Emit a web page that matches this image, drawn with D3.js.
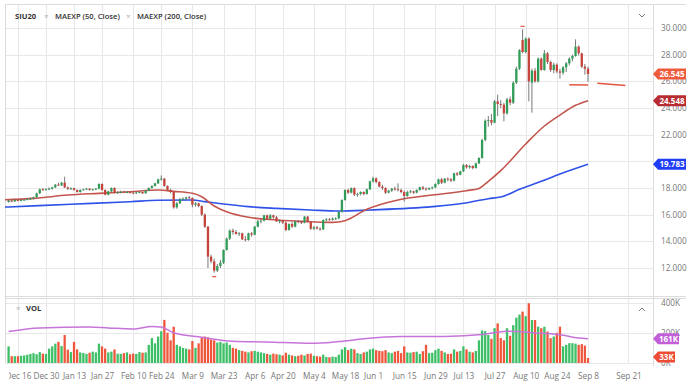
<!DOCTYPE html>
<html><head><meta charset="utf-8">
<script src="https://cdn.jsdelivr.net/npm/d3@7/dist/d3.min.js"></script>
<style>
html,body{margin:0;padding:0;background:#fff;}
svg{display:block;font-family:"Open Sans","Noto Sans",sans-serif;}
</style></head><body>
<svg id="c" width="700" height="388"></svg>
<script>
// Daily candles [open, high, low, close], Dec 11 2019 .. Sep 8 2020 (trading days)
const candles = [
[16.95,17.10,16.90,17.05],[17.05,17.15,16.95,17.00],[17.00,17.20,16.95,17.10],[17.10,17.15,17.00,17.05],[17.05,17.15,17.00,17.10],[17.10,17.18,17.05,17.12],[17.12,17.25,17.08,17.18],[17.18,17.30,17.10,17.22],[17.22,17.35,17.15,17.30],[17.30,17.65,17.28,17.60],
[17.60,17.95,17.55,17.90],[17.90,18.00,17.80,17.88],[17.88,17.98,17.80,17.92],[17.92,18.05,17.85,17.95],[17.95,18.10,17.88,18.05],[18.05,18.30,18.00,18.25],[18.25,18.40,18.15,18.20],[18.20,18.45,18.15,18.40],[18.40,18.85,18.00,18.05],[18.05,18.10,17.85,17.95],
[17.95,18.05,17.85,17.98],[17.98,18.02,17.80,17.85],[17.85,17.90,17.65,17.70],[17.70,17.90,17.65,17.85],[17.85,17.95,17.80,17.90],[17.90,18.00,17.85,17.95],[17.95,17.98,17.80,17.85],[17.85,17.95,17.80,17.90],[17.90,18.00,17.85,17.95],[17.95,18.35,17.90,18.30],
[18.30,18.35,17.80,17.85],[17.85,17.90,17.45,17.50],[17.50,17.80,17.45,17.75],[17.75,18.05,17.70,18.00],[18.00,18.05,17.60,17.65],[17.65,17.75,17.55,17.70],[17.70,17.80,17.60,17.72],[17.72,17.80,17.62,17.68],[17.68,17.78,17.60,17.70],[17.70,17.75,17.58,17.65],
[17.65,17.72,17.55,17.62],[17.62,17.70,17.55,17.66],[17.66,17.75,17.60,17.70],[17.70,17.72,17.55,17.60],[17.60,17.85,17.58,17.80],[17.80,18.05,17.78,18.00],[18.00,18.20,17.95,18.15],[18.15,18.40,18.10,18.35],[18.35,18.70,18.30,18.65],[18.65,18.95,18.55,18.70],
[18.70,18.75,18.10,18.15],[18.15,18.20,17.80,17.85],[17.85,17.95,17.60,17.70],[17.70,17.72,16.45,16.55],[16.55,16.95,16.45,16.85],[16.85,17.25,16.80,17.15],[17.15,17.30,17.05,17.20],[17.20,17.35,17.10,17.30],[17.30,17.40,17.15,17.25],[17.25,17.30,16.55,16.75],
[16.75,16.95,16.60,16.85],[16.85,16.90,16.55,16.65],[16.65,16.70,15.90,16.00],[16.00,16.10,15.00,15.10],[15.10,15.15,12.00,12.85],[12.85,13.00,12.35,12.50],[12.50,12.70,11.65,11.80],[11.80,12.30,11.70,12.15],[12.15,12.60,12.00,12.40],[12.40,13.40,12.30,13.35],
[13.35,14.30,13.30,14.20],[14.20,14.90,14.10,14.80],[14.80,14.95,14.50,14.70],[14.70,14.85,14.50,14.55],[14.55,14.70,14.40,14.60],[14.60,14.65,14.10,14.15],[14.15,14.40,14.00,14.10],[14.10,14.65,14.05,14.60],[14.60,14.70,14.35,14.50],[14.50,15.15,14.45,15.10],
[15.10,15.60,15.05,15.50],[15.50,15.65,15.35,15.55],[15.55,16.00,15.50,15.95],[15.95,16.00,15.60,15.70],[15.70,16.05,15.65,15.95],[15.95,16.00,15.70,15.80],[15.80,15.90,15.45,15.50],[15.50,15.65,15.35,15.55],[15.55,15.60,15.30,15.40],[15.40,15.50,14.75,14.85],
[14.85,15.35,14.80,15.30],[15.30,15.45,15.00,15.10],[15.10,15.55,15.05,15.50],[15.50,15.60,15.35,15.45],[15.45,15.55,15.30,15.40],[15.40,15.90,15.35,15.85],[15.85,15.90,15.40,15.45],[15.45,15.50,14.85,14.95],[14.95,15.15,14.85,15.05],[15.05,15.15,14.90,14.95],
[14.95,15.05,14.80,14.90],[14.90,15.65,14.85,15.60],[15.60,15.75,15.50,15.65],[15.65,15.75,15.55,15.60],[15.60,15.80,15.55,15.70],[15.70,15.80,15.60,15.72],[15.72,16.25,15.65,16.20],[16.20,17.15,16.15,17.10],[17.10,17.90,17.05,17.85],[17.85,17.95,17.55,17.65],
[17.65,18.05,17.60,17.98],[17.98,18.05,17.40,17.50],[17.50,17.65,17.35,17.55],[17.55,17.75,17.45,17.70],[17.70,17.75,17.45,17.55],[17.55,17.95,17.50,17.90],[17.90,18.55,17.85,18.50],[18.50,18.85,18.40,18.72],[18.72,18.80,18.35,18.45],[18.45,18.50,18.05,18.10],
[18.10,18.25,17.85,18.00],[18.00,18.05,17.55,17.65],[17.65,17.85,17.60,17.80],[17.80,18.00,17.70,17.95],[17.95,18.10,17.80,17.90],[17.90,18.35,17.75,17.85],[17.85,17.95,17.60,17.70],[17.70,17.80,16.97,17.40],[17.40,17.80,17.35,17.70],[17.70,17.85,17.60,17.75],
[17.75,17.80,17.55,17.65],[17.65,17.90,17.60,17.85],[17.85,18.10,17.80,18.05],[18.05,18.15,17.85,17.95],[17.95,18.05,17.80,17.90],[17.90,18.05,17.85,18.00],[18.00,18.10,17.90,18.05],[18.05,18.35,18.00,18.30],[18.30,18.70,18.25,18.65],[18.65,18.75,18.30,18.40],
[18.40,18.75,18.35,18.70],[18.70,18.80,18.50,18.65],[18.65,18.75,18.45,18.55],[18.55,19.15,18.50,19.10],[19.10,19.20,18.90,19.00],[19.00,19.30,18.95,19.25],[19.25,19.80,19.20,19.72],[19.72,19.80,19.45,19.55],[19.55,19.75,19.45,19.65],[19.65,19.70,19.40,19.50],
[19.50,19.90,19.45,19.85],[19.85,20.30,19.80,20.25],[20.25,21.70,20.20,21.60],[21.60,23.15,21.50,23.05],[23.05,23.40,22.60,23.10],[23.10,23.55,22.70,22.90],[22.90,24.60,22.85,24.50],[24.50,25.00,23.40,24.30],[24.30,24.60,24.00,24.25],[24.25,24.40,23.00,23.60],
[23.60,24.75,23.50,24.65],[24.65,24.85,24.20,24.40],[24.40,26.00,24.30,25.90],[25.90,27.10,25.80,26.95],[26.95,28.40,26.85,28.35],[29.10,29.90,28.10,28.20],[28.20,29.30,28.10,29.20],[29.20,29.30,24.50,26.00],[25.90,26.95,23.65,26.80],[26.80,27.00,25.90,26.00],
[26.00,27.80,25.90,27.70],[27.70,27.80,26.80,26.85],[26.85,28.35,26.80,28.10],[28.10,28.20,27.30,27.45],[27.45,27.55,26.70,26.85],[26.85,27.40,26.60,27.25],[27.25,27.35,26.60,26.75],[26.75,26.95,26.20,26.65],[26.65,27.15,26.50,27.05],[27.05,27.45,26.70,27.35],
[27.35,27.80,27.20,27.70],[27.70,28.00,27.50,27.90],[27.90,29.15,27.85,28.60],[28.60,28.70,27.95,28.10],[28.10,28.15,27.00,27.10],[27.10,27.30,26.50,26.95],[26.95,27.10,25.97,26.55]
];

// Daily volume, thousands of contracts
const volumes = [
110,45,45,45,48,50,55,60,65,58,72,62,60,
95,110,128,140,112,185,
88,72,140,90,70,66,60,68,75,70,128,
110,95,70,75,90,62,60,65,70,58,62,60,72,68,70,
120,165,130,175,210,285,200,150,240,
120,110,100,95,90,
145,100,130,165,175,170,155,150,135,140,
130,135,120,100,95,85,80,75,70,78,
80,75,70,65,60,55,62,58,55,50,68,55,50,45,48,55,50,60,
62,48,45,42,55,40,38,42,40,55,90,
105,85,95,90,65,60,70,75,90,
95,85,80,78,85,70,65,75,80,65,110,70,68,72,75,60,78,120,65,68,
85,95,80,70,60,62,90,75,80,110,90,75,70,80,
150,215,210,185,160,230,262,165,150,230,180,250,300,320,340,310,395,
284,284,240,230,240,208,164,175,200,240,
110,120,131,131,128,120,125,115,33
];

// Moving averages: [bar index, value]
const ma50 = [[-2,17.12],[0,17.13],[8,17.22],[19,17.47],[29,17.6],[39,17.72],[48,17.85],[53,17.75],[59,17.6],[62,17.35],[66,16.65],[70,16.22],[77,15.8],[86,15.6],[97,15.47],[104,15.42],[108,15.55],[115,16.4],[125,17.1],[136,17.47],[147,17.8],[151,17.97],[154,18.5],[158,19.3],[166,21.3],[172,22.65],[177,23.47],[182,24.2],[186,24.55]];
const ma200 = [[-2,16.56],[0,16.58],[20,16.78],[39,16.97],[48,17.08],[59,17.1],[63,16.98],[69,16.8],[77,16.6],[86,16.47],[97,16.35],[106,16.27],[116,16.35],[136,16.6],[146,16.85],[154,17.2],[158,17.32],[164,17.9],[171,18.5],[177,19.05],[186,19.78]];
const volMA = [[0,208],[10,232],[26,238],[32,232],[40,225],[46,242],[49,238],[53,200],[62,170],[72,144],[83,139],[97,130],[106,142],[114,160],[126,175],[140,176],[152,188],[160,210],[169,199],[177,187],[183,165],[186,161]];
const levelA = [[180,25.75],[186,25.72]];
const levelB = [[189,25.85],[198,25.68]];

const tickLabels = ["Dec 16","Dec 30","Jan 13","Jan 27","Feb 10","Feb 24","Mar 9","Mar 23","Apr 6","Apr 20","May 4","May 18","Jun 1","Jun 15","Jun 29","Jul 13","Jul 27","Aug 10","Aug 24","Sep 8","Sep 21"];
const tickIdx = [3,12,21,30,40,49,59,69,79,88,98,108,117,127,137,146,156,166,176,186,199];
const priceTicks = [12,14,16,18,20,22,24,26,28,30];
const volTicks = [0,200,400];
const lastPrice = 26.545, lastMA50 = 24.548, lastMA200 = 19.783, lastVolMA = 161, lastVol = 33;

const svg = d3.select("#c");
const L = 5, R = 653, PT = 5, PB = 296, VT = 299, VB = 363;
const x = d3.scaleLinear().domain([0,186]).range([8.6,588]);
const y = d3.scaleLinear().domain([12,30]).range([268,28]);
const yv = d3.scaleLinear().domain([0,400]).range([363,302.5]);

const defs = svg.append("defs");
defs.append("clipPath").attr("id","cp").append("rect").attr("x",L).attr("y",PT).attr("width",R-L).attr("height",PB-PT);
defs.append("clipPath").attr("id","cv").append("rect").attr("x",L).attr("y",VT).attr("width",R-L).attr("height",VB-VT+1);
defs.append("clipPath").attr("id","cx").append("rect").attr("x",9).attr("y",360).attr("width",700).attr("height",28);

const gridC = "#e8e8e8";
const grid = svg.append("g").attr("stroke",gridC).attr("stroke-width",1);
grid.selectAll(".hp").data(priceTicks).join("line").attr("x1",L).attr("x2",R).attr("y1",d=>Math.round(y(d))+0.5).attr("y2",d=>Math.round(y(d))+0.5);
grid.selectAll(".vp").data(tickIdx).join("line").attr("x1",d=>Math.round(x(d))+0.5).attr("x2",d=>Math.round(x(d))+0.5).attr("y1",PT).attr("y2",PB);
grid.selectAll(".vv").data(tickIdx).join("line").attr("class","vv").attr("x1",d=>Math.round(x(d))+0.5).attr("x2",d=>Math.round(x(d))+0.5).attr("y1",VT).attr("y2",VB);
grid.selectAll(".hv").data(volTicks).join("line").attr("class","hv").attr("x1",L).attr("x2",R).attr("y1",d=>Math.round(yv(d))+0.5).attr("y2",d=>Math.round(yv(d))+0.5);

const bd = svg.append("g").attr("stroke","#dcdcdc").attr("stroke-width",1);
bd.append("line").attr("x1",L).attr("x2",686).attr("y1",4.5).attr("y2",4.5);
bd.append("line").attr("x1",L).attr("x2",686).attr("y1",PB+0.5).attr("y2",PB+0.5);
bd.append("line").attr("x1",L).attr("x2",686).attr("y1",VT-0.5).attr("y2",VT-0.5);
bd.append("line").attr("x1",R+0.5).attr("x2",R+0.5).attr("y1",4.5).attr("y2",VB+3);
bd.append("line").attr("x1",L+0.5).attr("x2",L+0.5).attr("y1",4.5).attr("y2",VB);

const gp = svg.append("g").attr("clip-path","url(#cp)");
const up = d => d[3] >= d[0];
const GREEN = "#2f9d58", RED = "#c4433a";
const lineGen = d3.line().x(d=>x(d[0])).y(d=>y(d[1])).curve(d3.curveMonotoneX);
gp.append("path").datum(ma200).attr("d",lineGen).attr("fill","none").attr("stroke","#2f52e8").attr("stroke-width",1.6);
gp.append("path").datum(ma50).attr("d",lineGen).attr("fill","none").attr("stroke","#c4554d").attr("stroke-width",1.6);
[levelA, levelB].forEach(s => gp.append("path").datum(s).attr("d", d3.line().x(d=>x(d[0])).y(d=>y(d[1]))).attr("fill","none").attr("stroke","#e4553f").attr("stroke-width",1.5));

const cg = gp.append("g");
cg.selectAll(".w").data(candles).join("line")
  .attr("x1",(d,i)=>x(i)).attr("x2",(d,i)=>x(i))
  .attr("y1",d=>y(d[1])).attr("y2",d=>y(d[2]))
  .attr("stroke","#6a6a6a").attr("stroke-width",0.9);
cg.selectAll(".b").data(candles).join("rect")
  .attr("x",(d,i)=>x(i)-1.15).attr("width",2.3)
  .attr("y",d=>y(Math.max(d[0],d[3])))
  .attr("height",d=>Math.max(0.9, Math.abs(y(d[0])-y(d[3]))))
  .attr("fill",d=>up(d)?GREEN:RED);

const hiI = d3.maxIndex(candles,d=>d[1]), loI = d3.minIndex(candles,d=>d[2]);
gp.append("line").attr("x1",x(hiI)-2).attr("x2",x(hiI)+2).attr("y1",y(candles[hiI][1])-3).attr("y2",y(candles[hiI][1])-3).attr("stroke","#e4553f").attr("stroke-width",1.2);
gp.append("line").attr("x1",x(loI)-2).attr("x2",x(loI)+2).attr("y1",y(candles[loI][2])+4).attr("y2",y(candles[loI][2])+4).attr("stroke","#e4553f").attr("stroke-width",1.2);

const gv = svg.append("g").attr("clip-path","url(#cv)");
gv.selectAll(".v").data(volumes).join("rect")
  .attr("x",(d,i)=>x(i)-1.15).attr("width",2.3)
  .attr("y",d=>yv(d)).attr("height",d=>yv(0)-yv(d))
  .attr("fill",(d,i)=>up(candles[i])?"#3dbf67":"#ef573d");
gv.append("path").datum(volMA).attr("d",d3.line().x(d=>x(d[0])).y(d=>yv(d[1])).curve(d3.curveMonotoneX))
  .attr("fill","none").attr("stroke","#c774da").attr("stroke-width",1.5);

// price labels fully covered by a value badge are not shown in the reference
const badgeYs = [y(lastPrice), y(lastMA50), y(lastMA200)];
const shownPriceTicks = priceTicks.filter(t => badgeYs.every(b => Math.abs(y(t)-b) > 4));
const axP = svg.append("g").attr("transform",`translate(658,0)`)
  .call(d3.axisRight(y).tickValues(shownPriceTicks).tickFormat(d3.format(".3f")).tickSize(0).tickPadding(3));
const axV = svg.append("g").attr("transform",`translate(658,0)`)
  .call(d3.axisRight(yv).tickValues(volTicks).tickFormat(d=>d+"K").tickSize(0).tickPadding(3));
const axX = svg.append("g").attr("clip-path","url(#cx)").append("g").attr("transform",`translate(0,372)`)
  .call(d3.axisBottom(x).tickValues(tickIdx).tickFormat((d,i)=>tickLabels[i]).tickSize(0).tickPadding(1));
[axP,axV,axX].forEach(a=>{a.select(".domain").remove(); a.selectAll("text").attr("fill","#777").attr("font-size",8.2).attr("font-family","'Open Sans','Noto Sans',sans-serif");});

function badge(yc, txt, col, w){
  const g = svg.append("g");
  g.append("path").attr("d",`M${R},${yc} L${R+5},${yc-5.5} L${R+5+w},${yc-5.5} L${R+5+w},${yc+5.5} L${R+5},${yc+5.5} Z`).attr("fill",col);
  g.append("text").attr("x",R+5+w/2).attr("y",yc+2.9).attr("text-anchor","middle").attr("fill","#fff")
    .attr("font-size",8).attr("font-weight",700).text(txt);
}
badge(y(lastPrice), d3.format(".3f")(lastPrice), "#ef5a3c", 28);
badge(y(lastMA50), d3.format(".3f")(lastMA50), "#b72c30", 28);
badge(y(lastMA200), d3.format(".3f")(lastMA200), "#1f3df5", 28);
badge(yv(lastVolMA), lastVolMA+"K", "#c25ed8", 21);
badge(Math.min(yv(lastVol), 357), lastVol+"K", "#ef4a33", 17);

const lg = svg.append("g").attr("font-size",7.6).attr("fill","#333");
lg.append("text").attr("x",15).attr("y",18.5).attr("font-weight",700).text("SIU20");
lg.append("text").attr("x",44).attr("y",18.5).attr("fill","#aaa").attr("font-size",8).text("×");
lg.append("text").attr("x",55).attr("y",18.5).attr("font-weight",600).text("MAEXP (50, Close)");
lg.append("text").attr("x",126).attr("y",18.5).attr("fill","#aaa").attr("font-size",8).text("×");
lg.append("text").attr("x",137).attr("y",18.5).attr("font-weight",600).text("MAEXP (200, Close)");
lg.append("text").attr("x",16).attr("y",311).attr("fill","#aaa").attr("font-size",8).text("×");
lg.append("text").attr("x",26).attr("y",311).attr("font-weight",700).text("VOL");
svg.append("path").attr("d","M639,14 L642,17 L645,14").attr("fill","none").attr("stroke","#777").attr("stroke-width",1);
svg.append("path").attr("d","M639,311 L642,308 L645,311").attr("fill","none").attr("stroke","#777").attr("stroke-width",1);
</script>
</body></html>
